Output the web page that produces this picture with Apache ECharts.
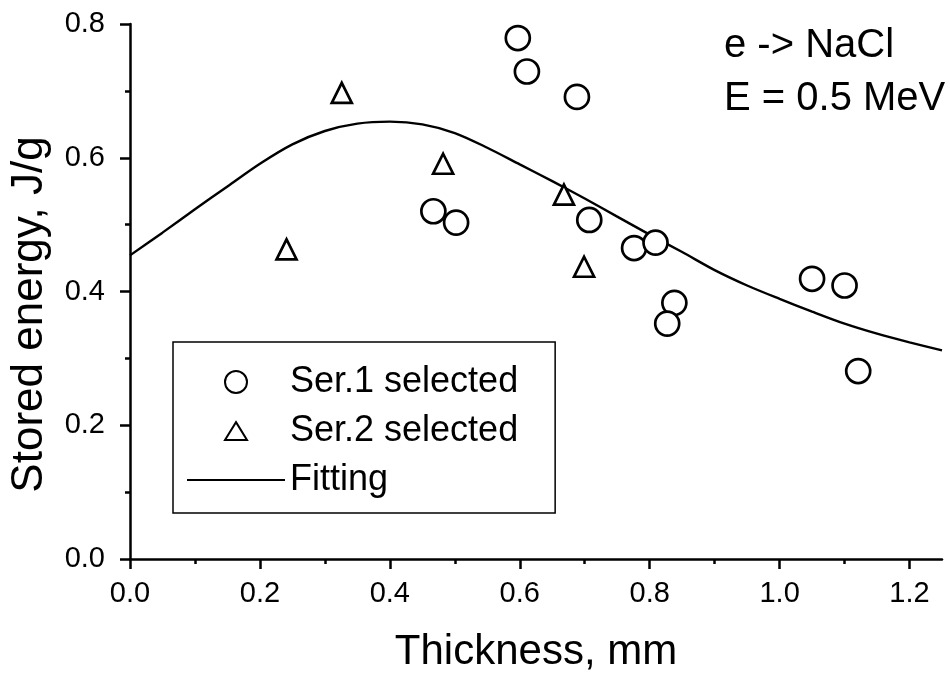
<!DOCTYPE html>
<html>
<head>
<meta charset="utf-8">
<script src="https://cdn.jsdelivr.net/npm/echarts@6/dist/echarts.min.js"></script>
<style>html,body{margin:0;padding:0;background:#fff}#c{width:950px;height:678px}</style>
</head>
<body>
<div id="c"></div>
<script>
// Data
const ser1X = [0.597, 0.611, 0.688, 0.467, 0.502, 0.707, 0.776, 0.809, 0.838, 0.827, 1.050, 1.100, 1.121];
const ser1Y = [0.779, 0.729, 0.691, 0.520, 0.503, 0.507, 0.465, 0.473, 0.383, 0.352, 0.419, 0.409, 0.281];
const ser2X = [0.241, 0.326, 0.482, 0.668, 0.699];
const ser2Y = [0.463, 0.697, 0.591, 0.545, 0.437];
const fitX = [0, 0.05, 0.10, 0.15, 0.20, 0.25, 0.30, 0.35, 0.40, 0.45, 0.50, 0.55, 0.60, 0.65, 0.70, 0.75, 0.80, 0.85, 0.90, 0.95, 1.00, 1.05, 1.10, 1.15, 1.20, 1.25];
const fitY = [0.454, 0.488, 0.523, 0.557, 0.591, 0.620, 0.640, 0.651, 0.654, 0.650, 0.637, 0.615, 0.590, 0.565, 0.539, 0.512, 0.485, 0.459, 0.432, 0.409, 0.389, 0.370, 0.352, 0.337, 0.324, 0.312];
const xMajorTicks = [0, 0.2, 0.4, 0.6, 0.8, 1.0, 1.2];
const xMinorTicks = [0.1, 0.3, 0.5, 0.7, 0.9, 1.1];
const seriesNames = ['Ser.1 selected', 'Ser.2 selected', 'Fitting'];
const xTitle = 'Thickness, mm';
const yTitle = 'Stored energy, J/g';
const noteLines = ['e -> NaCl', 'E = 0.5 MeV'];

const FONT = '"Liberation Sans", Arial, Helvetica, sans-serif';
const zip = (a, b) => a.map((v, i) => [v, b[i]]);

const chart = echarts.init(document.getElementById('c'), null, {renderer: 'canvas'});
const axisCommon = {
  axisLine: {show: true, lineStyle: {color: '#000', width: 2.5}},
  splitLine: {show: false}
};
const markerStyle = {color: '#fff', borderColor: '#000', borderWidth: 2.7, opacity: 1};
chart.setOption({
  animation: false,
  backgroundColor: '#fff',
  grid: {left: 126, right: 8, top: 24, bottom: 118, containLabel: false},
  xAxis: [{
    ...axisCommon,
    type: 'value', min: 0, max: 1.25, interval: 0.2,
    name: xTitle, nameLocation: 'middle', nameGap: 72,
    nameTextStyle: {fontFamily: FONT, fontSize: 42, color: '#000'},
    axisTick: {show: true, inside: false, length: 10, lineStyle: {color: '#000', width: 2.5}, customValues: xMajorTicks},
    axisLabel: {fontFamily: FONT, fontSize: 29, color: '#000', margin: 20, customValues: xMajorTicks,
      formatter: v => v.toFixed(1)},
    minorTick: {show: false}
  }, {
    type: 'value', min: 0, max: 1.25, position: 'bottom',
    axisLine: {show: false}, splitLine: {show: false},
    axisLabel: {show: false},
    axisTick: {show: true, inside: false, length: 5, lineStyle: {color: '#000', width: 2.5}, customValues: xMinorTicks}
  }],
  yAxis: {
    ...axisCommon,
    type: 'value', min: 0, max: 0.8, interval: 0.2,
    name: yTitle, nameLocation: 'middle', nameGap: 78, nameRotate: 90,
    nameTextStyle: {fontFamily: FONT, fontSize: 44, color: '#000', padding: [0, 46, 0, 0]},
    axisTick: {show: true, inside: false, length: 10, lineStyle: {color: '#000', width: 2.5}},
    minorTick: {show: true, splitNumber: 2, length: 5, lineStyle: {color: '#000', width: 2.5}},
    axisLabel: {fontFamily: FONT, fontSize: 29, color: '#000', margin: 25, formatter: v => v.toFixed(1)}
  },
  legend: {
    orient: 'vertical', left: 173, top: 342,
    data: [
      {name: seriesNames[0], icon: 'circle'},
      {name: seriesNames[1], icon: 'path://M0,0M14,2.5L27,23.5L1,23.5ZM28,26'},
      {name: seriesNames[2], itemStyle: {opacity: 0}}
    ],
    symbolKeepAspect: true,
    itemWidth: 98, itemHeight: 22, itemGap: 13,
    padding: [22, 37, 15, 13],
    borderColor: '#000', borderWidth: 1.5,
    textStyle: {fontFamily: FONT, fontSize: 36, color: '#000'},
    selectedMode: false
  },
  graphic: [
    {type: 'text', left: 724, top: 26, style: {text: noteLines[0], font: '40px ' + FONT, fill: '#000'}},
    {type: 'text', left: 724, top: 79, style: {text: noteLines[1], font: '40px ' + FONT, fill: '#000'}}
  ],
  series: [{
    name: seriesNames[0], type: 'scatter', data: zip(ser1X, ser1Y),
    symbol: 'circle', symbolSize: 24,
    itemStyle: markerStyle,
    z: 3
  }, {
    name: seriesNames[1], type: 'scatter', data: zip(ser2X, ser2Y),
    symbol: 'triangle', symbolSize: [20, 20],
    itemStyle: markerStyle,
    z: 3
  }, {
    name: seriesNames[2], type: 'line', data: zip(fitX, fitY),
    smooth: 0.3, symbol: 'none', showSymbol: false,
    lineStyle: {color: '#000', width: 2.4},
    itemStyle: {color: '#000'},
    z: 2
  }]
});
</script>
</body>
</html>
